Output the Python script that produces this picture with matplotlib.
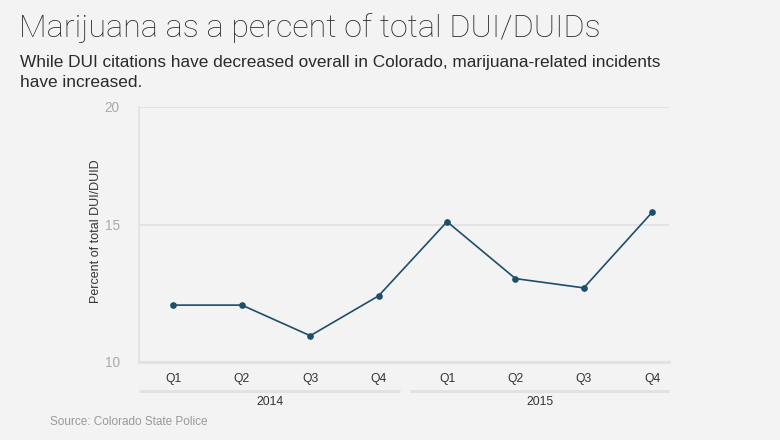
import numpy as np
import matplotlib
matplotlib.use("Agg")
import matplotlib.pyplot as plt
from matplotlib.transforms import blended_transform_factory

# ---- data ----
quarters = ["Q1", "Q2", "Q3", "Q4", "Q1", "Q2", "Q3", "Q4"]
years = ["2014", "2015"]
quarters_per_year = 4
percent = [12.07, 12.07, 10.95, 12.41, 15.14, 13.04, 12.70, 15.54]
yticks = [10, 15, 20]

title = "Marijuana as a percent of total DUI/DUIDs"
subtitle_lines = ["While DUI citations have decreased overall in Colorado, marijuana-related incidents",
                  "have increased."]
source = "Source: Colorado State Police"
ylabel = "Percent of total DUI/DUID"

BG = "#f3f3f3"
LINE = "#1d4e6c"
GRID = "#e2e2e2"

plt.rcParams['font.family'] = ['Liberation Sans', 'DejaVu Sans']

fig = plt.figure(figsize=(7.8, 4.4), dpi=100, facecolor=BG)
ax = fig.add_axes([139.3 / 780, 1 - 361.7 / 440, 530 / 780, 255 / 440])
ax.set_facecolor(BG)

# piecewise-linear y scale matching the reference's tick spacing
_v = np.array([10.0, 15.0, 20.0])
_p = np.array([0.0, 136.7, 255.0])

def fwd(v):
    v = np.asarray(v, dtype=float)
    lo = _p[0] + (v - _v[0]) * (_p[1] - _p[0]) / (_v[1] - _v[0])
    hi = _p[1] + (v - _v[1]) * (_p[2] - _p[1]) / (_v[2] - _v[1])
    return np.where(v < _v[1], lo, hi)

def inv(p):
    p = np.asarray(p, dtype=float)
    lo = _v[0] + (p - _p[0]) * (_v[1] - _v[0]) / (_p[1] - _p[0])
    hi = _v[1] + (p - _p[1]) * (_v[2] - _v[1]) / (_p[2] - _p[1])
    return np.where(p < _p[1], lo, hi)

ax.set_yscale('function', functions=(fwd, inv))

x = np.arange(len(percent))
ax.plot(x, percent, color=LINE, lw=1.2, marker='o', ms=3.8, zorder=3, clip_on=False)

ax.set_xlim(-0.5, 7.25)
ax.set_ylim(10, 20)
ax.set_yticks(yticks)
ax.set_yticklabels([str(t) for t in yticks], color="#aaaaaa", fontsize=9.8)
ax.yaxis.set_minor_locator(matplotlib.ticker.NullLocator())
ax.set_xticks(x)
ax.set_xticklabels(quarters, color="#333333", fontsize=8.7)
ax.tick_params(axis='both', length=0)
ax.tick_params(axis='x', pad=8)
ax.tick_params(axis='y', pad=14)

for s in ['top', 'right']:
    ax.spines[s].set_visible(False)
ax.spines['left'].set_color(GRID)
ax.spines['left'].set_linewidth(1.2)
ax.spines['bottom'].set_color(GRID)
ax.spines['bottom'].set_linewidth(2.2)
ax.grid(axis='y', color=GRID, lw=1.3)
ax.set_axisbelow(True)

ax.set_ylabel(ylabel, color="#333333", fontsize=9, va='center')
ax.yaxis.set_label_coords(-0.0826, 0.51)

# year group lines and labels
tr = blended_transform_factory(ax.transData, ax.transAxes)
xmin, xmax = ax.get_xlim()
for i, yr in enumerate(years):
    start = i * quarters_per_year - 0.5
    end = (i + 1) * quarters_per_year - 0.5
    a = xmin if i == 0 else start - 0.04
    b = xmax if i == len(years) - 1 else end - 0.19
    ax.plot([a, b], [-0.1137, -0.1137], transform=tr, color=GRID, lw=2.2,
            clip_on=False, solid_capstyle='butt')
    ax.text((a + b) / 2, -0.157, yr, transform=tr, ha='center', va='center',
            color="#333333", fontsize=8.7)

fig.text(19 / 780, 1 - 36.7 / 440, title, fontsize=23.2, color="#2a2a2a",
         va='baseline', ha='left', family=['Roboto', 'DejaVu Sans'], weight='light')
for k, line in enumerate(subtitle_lines):
    fig.text(20 / 780, 1 - (66.7 + 20.6 * k) / 440, line, fontsize=12.4,
             color="#2a2a2a", va='baseline', ha='left')
fig.text(50 / 780, 1 - 421.7 / 440, source, fontsize=8.5, color="#999999",
         va='center', ha='left')

fig.savefig("out.png", dpi=100, facecolor=BG)
